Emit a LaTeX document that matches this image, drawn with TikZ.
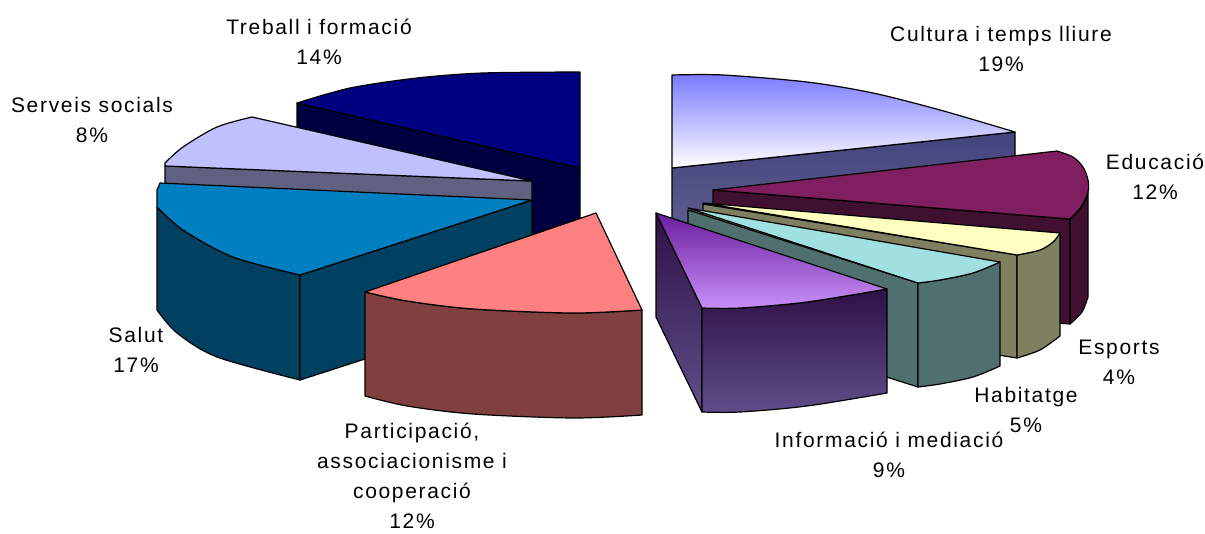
\documentclass[tikz,border=0pt]{standalone}
\usepackage{fontspec}
\setmainfont{Liberation Sans}
\newfontfamily\lblfont[LetterSpace=8]{Liberation Sans}

\definecolor{treballtop}{HTML}{000080}
\definecolor{treballside}{HTML}{000040}
\definecolor{serveistop}{HTML}{C0C0FF}
\definecolor{serveisside}{HTML}{606080}
\definecolor{saluttop}{HTML}{0080C0}
\definecolor{salutside}{HTML}{004060}
\definecolor{particitop}{HTML}{FF8080}
\definecolor{particiside}{HTML}{804040}
\definecolor{culturatop}{HTML}{7A7AFF}
\definecolor{culturaside}{HTML}{44447E}
\definecolor{culturaside2}{HTML}{686894}
\definecolor{educaciotop}{HTML}{801F5F}
\definecolor{educacioside}{HTML}{401030}
\definecolor{esportstop}{HTML}{FFFFC0}
\definecolor{esportsside}{HTML}{808060}
\definecolor{habitatgetop}{HTML}{A0E0E0}
\definecolor{habitatgeside}{HTML}{507070}
\definecolor{infotop}{HTML}{6A1E9E}
\definecolor{infotop2}{HTML}{C890F8}
\definecolor{infoside}{HTML}{2E1046}
\definecolor{infoside2}{HTML}{604E8A}

\begin{document}
\begin{tikzpicture}[x=1pt,y=-1pt]
        \tikzstyle{face}=[draw=black,line width=1.2pt,line join=round]
        \tikzstyle{lbl}=[font=\lblfont\fontsize{21}{30}\selectfont,align=center,inner sep=0pt]
            \useasboundingbox (0,0) rectangle (1205,533);

            % left part of the pie
            \path[face,fill=treballside] (297,103) -- (580,168) -- (580,273) -- (297,208) -- cycle;
            \path[face,fill=treballtop] (580,168) -- plot[smooth] coordinates {(297,103) (350,88) (417,78) (483,73) (580,72)} -- cycle;

            \path[face,fill=serveisside] (165,166) -- (532,181) -- (532,286) -- (165,271) -- cycle;
            \path[face,fill=serveistop] (532,181) -- (165,166) -- plot[smooth] coordinates {(165,163) (183,147) (217,127) (252,117)} -- cycle;

            \path[face,fill=salutside] plot[smooth] coordinates {(157,207) (183,230) (233,257) (300,275)}
                -- (300,380) -- plot[smooth] coordinates {(300,380) (217,357) (177,333) (157,310)} -- cycle;
            \path[face,fill=salutside] (300,275) -- (532,200) -- (532,305) -- (300,380) -- cycle;
            \path[face,fill=saluttop] (532,200) -- (160,183) -- (157,190)
                -- plot[smooth] coordinates {(157,207) (183,230) (233,257) (300,275)} -- cycle;

            \path[face,fill=particiside] plot[smooth] coordinates {(365,292) (407,301) (473,309) (573,313) (642,310)}
                -- (642,415) -- plot[smooth] coordinates {(642,415) (573,418) (473,414) (407,406) (365,396)} -- cycle;
            \path[face,fill=particitop] (596,213) -- plot[smooth] coordinates {(365,292) (407,301) (473,309) (573,313) (642,310)} -- cycle;

            % right part of the pie
            \path[face,top color=culturaside,bottom color=culturaside2] (672,168) -- (1015,132) -- (1015,237) -- (672,273) -- cycle;
            \path[face,top color=culturatop,bottom color=white] (672,168) -- (672,75)
                -- plot[smooth] coordinates {(672,75) (723,75) (807,82) (873,93) (940,110) (1015,132)} -- cycle;

            \path[face,fill=educacioside] (713,190) -- (1070,219) -- (1070,324) -- (713,297) -- cycle;
            \path[face,fill=educacioside] plot[smooth] coordinates {(1070,219) (1082,207) (1088,192)}
                -- (1088,297) -- plot[smooth] coordinates {(1088,297) (1082,312) (1070,324)} -- cycle;
            \path[face,fill=educaciotop] (713,190) -- (1057,151)
                -- plot[smooth] coordinates {(1057,151) (1073,157) (1083,167) (1088,180) (1088,192) (1081,207) (1070,219)} -- cycle;

            \path[face,fill=esportsside] (703,204) -- (1017,255) -- (1017,358) -- (703,308) -- cycle;
            \path[face,fill=esportsside] plot[smooth] coordinates {(1017,255) (1040,250) (1053,242) (1060,233)}
                -- (1060,336) -- plot[smooth] coordinates {(1060,336) (1040,350) (1017,358)} -- cycle;
            \path[face,fill=esportstop] (703,203) -- (1060,233)
                -- plot[smooth] coordinates {(1060,233) (1053,242) (1040,250) (1017,255)} -- cycle;

            \path[face,fill=habitatgeside] (688,210) -- (918,283) -- (918,387) -- (688,314) -- cycle;
            \path[face,fill=habitatgeside] plot[smooth] coordinates {(918,283) (940,280) (973,273) (1000,262)}
                -- (1000,366) -- plot[smooth] coordinates {(1000,366) (973,377) (940,384) (918,387)} -- cycle;
            \path[face,fill=habitatgetop] (688,208) -- (1000,262)
                -- plot[smooth] coordinates {(1000,262) (973,273) (940,280) (918,283)} -- cycle;

            \path[face,top color=infoside,bottom color=infoside2] (656,213) -- (702,308) -- (702,412) -- (656,317) -- cycle;
            \path[face,top color=infoside,bottom color=infoside2] plot[smooth] coordinates {(702,308) (740,308) (807,302) (887,289)}
                -- (887,393) -- plot[smooth] coordinates {(887,393) (807,406) (740,412) (702,412)} -- cycle;
            \path[face,top color=infotop,bottom color=infotop2] (656,213) -- (887,289)
                -- plot[smooth] coordinates {(887,289) (807,302) (740,308) (702,308)} -- cycle;

            % labels
            \node[lbl] (treball) at (319,42) {Treball i formació\\14\%};
            \node[lbl] (serveis) at (92,120) {Serveis socials\\8\%};
            \node[lbl] (salut) at (136,350) {Salut\\17\%};
            \node[lbl] (particip) at (412,476) {Participació,\\associacionisme i\\cooperació\\12\%};
            \node[lbl] (cultura) at (1001,49) {Cultura i temps lliure\\19\%};
            \node[lbl] (educacio) at (1155,177) {Educació\\12\%};
            \node[lbl] (esports) at (1119,362) {Esports\\4\%};
            \node[lbl] (habitatge) at (1026,410) {Habitatge\\5\%};
            \node[lbl] (informacio) at (889,455) {Informació i mediació\\9\%};
        \end{tikzpicture}
\end{document}
